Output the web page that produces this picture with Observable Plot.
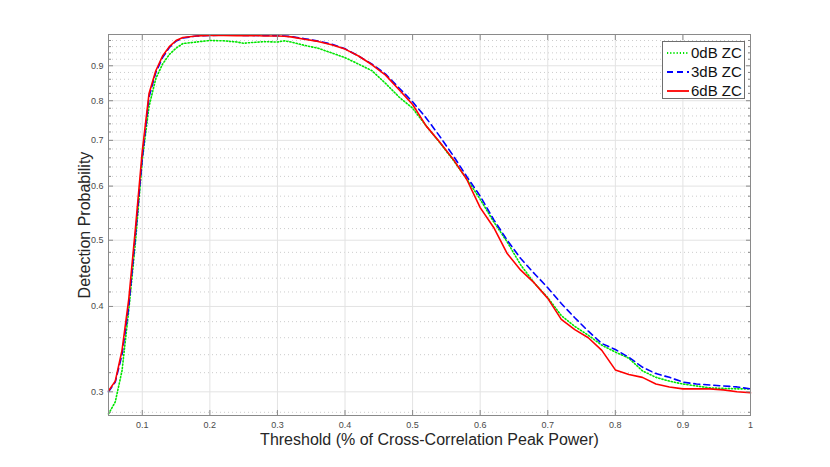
<!DOCTYPE html>
<html>
<head>
<meta charset="utf-8">
<script src="https://cdn.jsdelivr.net/npm/d3@7"></script>
<script src="https://cdn.jsdelivr.net/npm/@observablehq/plot@0.6"></script>
<style>
  html, body { margin: 0; padding: 0; background: #fff; }
  #chart { position: relative; width: 830px; height: 467px; font-family: "Liberation Sans", Arial, Helvetica, sans-serif; }
  #legend { position: absolute; left: 662px; top: 41px; width: 83px; height: 58px; background: #fff; border: 1px solid #6e6e6e; box-sizing: border-box; }
  #legend .row { position: absolute; left: 3px; height: 19px; display: flex; align-items: center; font-size: 15px; color: #111; }
  #legend svg { margin-right: 1px; }
</style>
</head>
<body>
<div id="chart"><div id="legend"></div></div>
<script>
// Threshold (fraction of cross-correlation peak power)
const thresholds = [0.05,0.06,0.07,0.08,0.09,0.10,0.11,0.12,0.13,0.14,0.15,0.16,0.18,0.20,0.22,0.24,0.25,0.26,0.28,0.30,0.31,0.32,0.34,0.36,0.38,0.40,0.42,0.44,0.46,0.48,0.50,0.52,0.54,0.56,0.58,0.60,0.62,0.64,0.66,0.68,0.70,0.72,0.74,0.76,0.78,0.80,0.82,0.84,0.86,0.88,0.90,0.92,0.94,0.96,0.98,1.00];
// Detection probability, 0 dB ZC
const pd0dB = [0.2785,0.290,0.322,0.395,0.498,0.655,0.785,0.862,0.905,0.935,0.955,0.970,0.975,0.980,0.979,0.975,0.971,0.973,0.976,0.975,0.979,0.975,0.964,0.955,0.940,0.925,0.905,0.885,0.848,0.810,0.780,0.735,0.695,0.655,0.615,0.574,0.532,0.497,0.460,0.433,0.412,0.388,0.374,0.363,0.351,0.343,0.336,0.322,0.315,0.311,0.308,0.306,0.304,0.3035,0.303,0.303];
// Detection probability, 3 dB ZC
const pd3dB = [0.300,0.310,0.340,0.400,0.510,0.660,0.810,0.880,0.925,0.957,0.978,0.988,0.995,0.997,0.998,0.998,0.997,0.997,0.997,0.996,0.995,0.993,0.986,0.978,0.968,0.953,0.930,0.905,0.875,0.835,0.797,0.755,0.710,0.665,0.620,0.580,0.536,0.500,0.470,0.447,0.426,0.404,0.385,0.368,0.353,0.346,0.337,0.326,0.319,0.315,0.310,0.308,0.307,0.306,0.305,0.303];
// Detection probability, 6 dB ZC
const pd6dB = [0.301,0.311,0.345,0.410,0.522,0.675,0.820,0.885,0.930,0.960,0.980,0.990,0.995,0.997,0.997,0.996,0.996,0.997,0.995,0.995,0.994,0.992,0.984,0.977,0.966,0.952,0.930,0.903,0.872,0.830,0.790,0.735,0.696,0.657,0.614,0.558,0.522,0.478,0.452,0.433,0.411,0.383,0.370,0.360,0.345,0.323,0.318,0.315,0.308,0.305,0.303,0.303,0.303,0.302,0.300,0.299];

const seriesNames = ["0dB ZC", "3dB ZC", "6dB ZC"];
const seriesValues = [pd0dB, pd3dB, pd6dB];
const seriesColors = ["#00e600", "#0000ff", "#ff0000"];
const seriesDash = ["1.2,2", "6,4", null];

const xTicks = [0.1,0.2,0.3,0.4,0.5,0.6,0.7,0.8,0.9,1.0];
const yMajor = [0.3,0.4,0.5,0.6,0.7,0.8,0.9];
const yMinor = [0.28,0.32,0.34,0.36,0.38,0.42,0.44,0.46,0.48,0.52,0.54,0.56,0.58,0.62,0.64,0.66,0.68,0.72,0.74,0.76,0.78,0.82,0.84,0.86,0.88,0.92,0.94,0.96,0.98];

const rows = [];
seriesNames.forEach((name, i) => {
  thresholds.forEach((t, j) => rows.push({series: name, t, p: seriesValues[i][j]}));
});

const lineMarks = seriesNames.map((name, i) =>
  Plot.line(rows.filter(d => d.series === name), {
    x: "t", y: "p", stroke: seriesColors[i], strokeWidth: 1.6,
    strokeDasharray: seriesDash[i] || undefined, curve: "linear"
  })
);

const axisColor = "#8a8a8a";
const labelColor = "#4a4a4a";
const noText = () => "";

const chart = Plot.plot({
  width: 830,
  height: 467,
  marginLeft: 108,
  marginRight: 80,
  marginTop: 34,
  marginBottom: 52,
  style: {background: "#fff", fontFamily: "Liberation Sans, Arial, Helvetica, sans-serif"},
  x: {domain: [0.05, 1.0]},
  y: {type: "log", domain: [0.277, 1.0]},
  marks: [
    Plot.ruleY(yMinor, {stroke: "#cccccc", strokeDasharray: "1,3", strokeWidth: 1}),
    Plot.gridY(yMajor, {stroke: "#e3e3e3", strokeOpacity: 1}),
    Plot.gridX(xTicks, {stroke: "#e3e3e3", strokeOpacity: 1}),
    ...lineMarks,
    Plot.frame({stroke: axisColor}),
    // bottom axis: inward ticks + labels
    Plot.axisX(xTicks, {anchor: "bottom", tickSize: -5, tickFormat: noText, stroke: axisColor, label: null}),
    Plot.axisX(xTicks, {anchor: "bottom", tickSize: 0, tickPadding: 6, tickFormat: d => d3.format("~g")(d), fontSize: 9, fill: labelColor,
      label: "Threshold (% of Cross-Correlation Peak Power)", labelAnchor: "center", labelArrow: "none", labelOffset: 29}),
    Plot.axisX(xTicks, {anchor: "top", tickSize: -5, tickFormat: noText, stroke: axisColor, label: null}),
    // left axis
    Plot.axisY(yMajor, {anchor: "left", tickSize: -5, tickFormat: noText, stroke: axisColor, label: null}),
    Plot.axisY(yMinor, {anchor: "left", tickSize: -3, tickFormat: noText, stroke: axisColor, label: null}),
    Plot.axisY(yMajor, {anchor: "left", tickSize: 0, tickPadding: 5, tickFormat: d => d3.format("~g")(d), fontSize: 9, fill: labelColor,
      label: "Detection Probability", labelAnchor: "center", labelArrow: "none", labelOffset: 30}),
    // right axis
    Plot.axisY(yMajor, {anchor: "right", tickSize: -5, tickFormat: noText, stroke: axisColor, label: null}),
    Plot.axisY(yMinor, {anchor: "right", tickSize: -3, tickFormat: noText, stroke: axisColor, label: null})
  ]
});

// style axis labels
d3.select(chart).selectAll("g[aria-label='x-axis label'] text, g[aria-label='y-axis label'] text")
  .style("font-size", "16px").style("fill", "#262626");

const container = document.getElementById("chart");
container.insertBefore(chart, container.firstChild);

// legend
const legend = document.getElementById("legend");
seriesNames.forEach((name, i) => {
  const row = document.createElement("div");
  row.className = "row";
  row.style.top = (1 + i * 19) + "px";
  const dash = seriesDash[i] ? `stroke-dasharray="${seriesDash[i]}"` : "";
  row.innerHTML = `<svg width="24" height="10"><line x1="1" y1="5" x2="23" y2="5" stroke="${seriesColors[i]}" stroke-width="1.8" ${dash}/></svg><span>${name}</span>`;
  legend.appendChild(row);
});
</script>
</body>
</html>
